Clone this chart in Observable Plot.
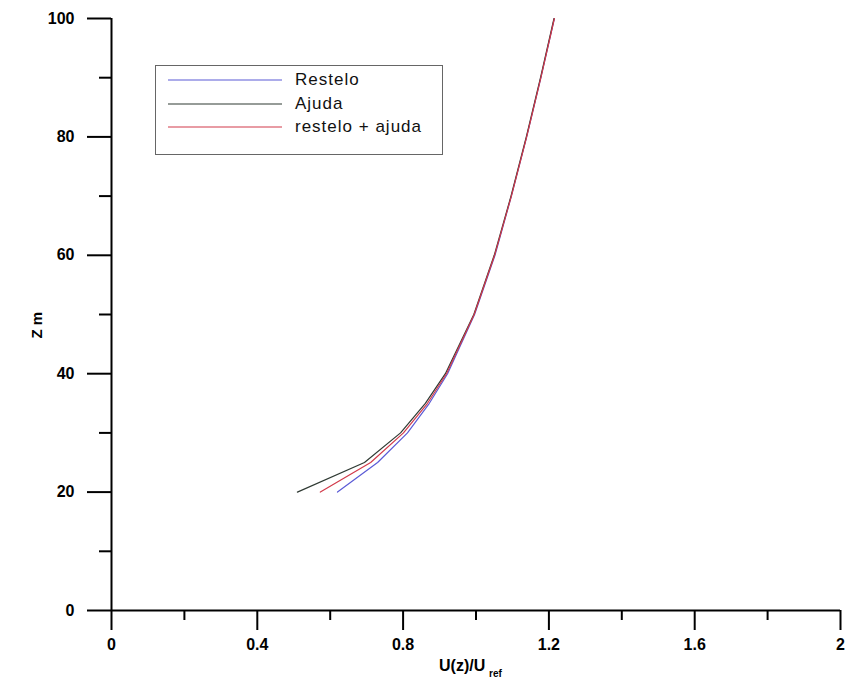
<!DOCTYPE html>
<html>
<head>
<meta charset="utf-8">
<script src="https://cdn.jsdelivr.net/npm/d3@7"></script>
<script src="https://cdn.jsdelivr.net/npm/@observablehq/plot@0.6"></script>
<style>
  html, body { margin: 0; padding: 0; background: #fff; }
  #wrap { position: relative; width: 847px; height: 686px; font-family: Arial, "Liberation Sans", sans-serif; }
  #legend { position: absolute; left: 155px; top: 65px; width: 286px; height: 88px; border: 1px solid #666; background: #fff; }
  #legend .row { position: absolute; left: 12px; height: 20px; display: flex; align-items: center; }
  #legend .row span { font-size: 17px; margin-left: 13px; color: #111; letter-spacing: 1px; }
</style>
</head>
<body>
<div id="wrap"></div>
<script>
const heights = [20, 25, 30, 35, 40, 50, 60, 70, 80, 90, 100];
const restelo = [0.620, 0.730, 0.812, 0.872, 0.922, 0.996, 1.052, 1.097, 1.139, 1.178, 1.215];
const ajuda = [0.510, 0.694, 0.793, 0.861, 0.916, 0.994, 1.050, 1.096, 1.138, 1.177, 1.214];
const resteloAjuda = [0.573, 0.711, 0.801, 0.867, 0.919, 0.995, 1.051, 1.097, 1.139, 1.178, 1.215];
const seriesNames = ["Restelo", "Ajuda", "restelo + ajuda"];
const seriesColors = ["#5b5bd6", "#2f3a33", "#d23a4a"];
const xMajorTicks = [0, 0.4, 0.8, 1.2, 1.6, 2];
const xMinorTicks = [0.2, 0.6, 1.0, 1.4, 1.8];
const yMajorTicks = [0, 20, 40, 60, 80, 100];
const yMinorTicks = [10, 30, 50, 70, 90];

const seriesValues = [restelo, ajuda, resteloAjuda];
const rows = [];
seriesNames.forEach((name, i) => {
  heights.forEach((z, j) => rows.push({series: name, z, u: seriesValues[i][j]}));
});

const chart = Plot.plot({
  width: 847,
  height: 686,
  marginLeft: 111,
  marginRight: 7,
  marginTop: 18,
  marginBottom: 76,
  style: {fontFamily: "Arial, 'Liberation Sans', sans-serif", background: "#fff", color: "#000"},
  x: {domain: [0, 2]},
  y: {domain: [0, 100]},
  color: {domain: seriesNames, range: seriesColors},
  marks: [
    Plot.axisX({ticks: xMajorTicks, tickSize: 20, tickPadding: 8, strokeWidth: 2, fontSize: 16, fontWeight: "bold", label: null, tickFormat: d => String(d)}),
    Plot.axisX({ticks: xMinorTicks, tickSize: 10, strokeWidth: 2, tickFormat: () => "", label: null}),
    Plot.axisY({ticks: yMajorTicks, tickSize: 24, tickPadding: 13, strokeWidth: 2, fontSize: 16, fontWeight: "bold", label: null}),
    Plot.axisY({ticks: yMinorTicks, tickSize: 12, strokeWidth: 2, tickFormat: () => "", label: null}),
    Plot.ruleX([0], {stroke: "#000", strokeWidth: 2}),
    Plot.ruleY([0], {stroke: "#000", strokeWidth: 2}),
    Plot.line(rows, {x: "u", y: "z", z: "series", stroke: "series", strokeWidth: 1.2}),
    Plot.text(["Z m"], {frameAnchor: "left", dx: -74, dy: 24, rotate: -90, fontSize: 15, fontWeight: "bold", fill: "#000"}),
    Plot.text(["U(z)/U"], {frameAnchor: "bottom", dy: 60, dx: -37, textAnchor: "start", fontSize: 16, fontWeight: "bold", fill: "#000"}),
    Plot.text(["ref"], {frameAnchor: "bottom", dy: 66, dx: 13, textAnchor: "start", fontSize: 10, fontWeight: "bold", fill: "#000"})
  ]
});

const wrap = document.getElementById("wrap");
wrap.appendChild(chart);

const legend = document.createElement("div");
legend.id = "legend";
const rowTops = [14, 38, 61];
seriesNames.forEach((name, i) => {
  const row = document.createElement("div");
  row.className = "row";
  row.style.top = (rowTops[i] - 10) + "px";
  const svg = d3.create("svg").attr("width", 114).attr("height", 4);
  svg.append("line").attr("x1", 0).attr("x2", 114).attr("y1", 2).attr("y2", 2)
    .attr("stroke", seriesColors[i]).attr("stroke-width", 1.2);
  row.appendChild(svg.node());
  const label = document.createElement("span");
  label.textContent = name;
  row.appendChild(label);
  legend.appendChild(row);
});
wrap.appendChild(legend);
</script>
</body>
</html>
